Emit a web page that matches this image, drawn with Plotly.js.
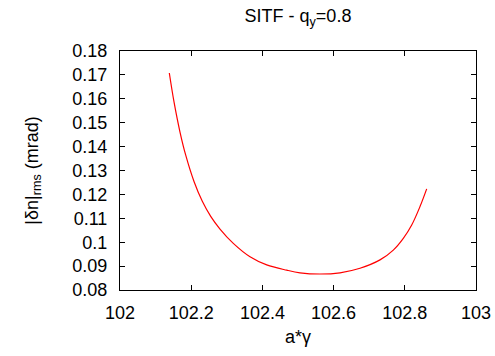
<!DOCTYPE html>
<html>
<head>
<meta charset="utf-8">
<script src="https://cdn.plot.ly/plotly-3.0.1.min.js"></script>
<style>html,body{margin:0;padding:0;background:#fff;}#chart{width:495px;height:356px;}</style>
</head>
<body>
<div id="chart"></div>
<script>
const aGamma = [102.1385, 102.1517, 102.1685, 102.1846, 102.2079, 102.2312, 102.2548, 102.2809, 102.3183, 102.3652, 102.4121, 102.4683, 102.5056, 102.5618, 102.6180, 102.6742, 102.7303, 102.7677, 102.7958, 102.8194, 102.8427, 102.8615];
const dnRms  = [0.1708, 0.1587, 0.1461, 0.1364, 0.1254, 0.1171, 0.1108, 0.1055, 0.0995, 0.0939, 0.0905, 0.0883, 0.0872, 0.0867, 0.0872, 0.0891, 0.0926, 0.0967, 0.1016, 0.1072, 0.1149, 0.1223];
const xTicks = [102, 102.2, 102.4, 102.6, 102.8, 103];
const yTicks = [0.08, 0.09, 0.1, 0.11, 0.12, 0.13, 0.14, 0.15, 0.16, 0.17, 0.18];

const font = {family: 'Liberation Sans, Arial, sans-serif', size: 18, color: '#000'};
const axisCommon = {
  showgrid: false, zeroline: false, showline: true, linecolor: '#000', linewidth: 1,
  mirror: 'allticks', ticks: 'inside', ticklen: 5, tickcolor: '#000', tickwidth: 1,
  tickfont: font
};
Plotly.newPlot('chart', [{
  x: aGamma, y: dnRms, type: 'scatter', mode: 'lines',
  line: {color: '#ff0000', width: 1.2, shape: 'spline', smoothing: 1}
}], {
  width: 495, height: 356,
  margin: {l: 120, r: 19, t: 51, b: 66},
  paper_bgcolor: '#fff', plot_bgcolor: '#fff',
  showlegend: false,
  font: font,
  title: {text: 'SITF - q<sub>y</sub>=0.8', font: font, x: 0.602, xanchor: 'center', y: 0.955, yanchor: 'middle'},
  xaxis: Object.assign({}, axisCommon, {
    range: [102, 103], tickvals: xTicks, ticktext: xTicks.map(v => String(v)),
    ticklabelstandoff: 6,
    title: {text: 'a*γ', font: font, standoff: 8}
  }),
  yaxis: Object.assign({}, axisCommon, {
    range: [0.08, 0.18], tickvals: yTicks, ticktext: yTicks.map(v => String(v)),
    ticklabelstandoff: 8,
    title: {text: '|δn|<sub>rms</sub> (mrad)', font: font, standoff: 29}
  })
}, {displayModeBar: false, staticPlot: true});
</script>
</body>
</html>
